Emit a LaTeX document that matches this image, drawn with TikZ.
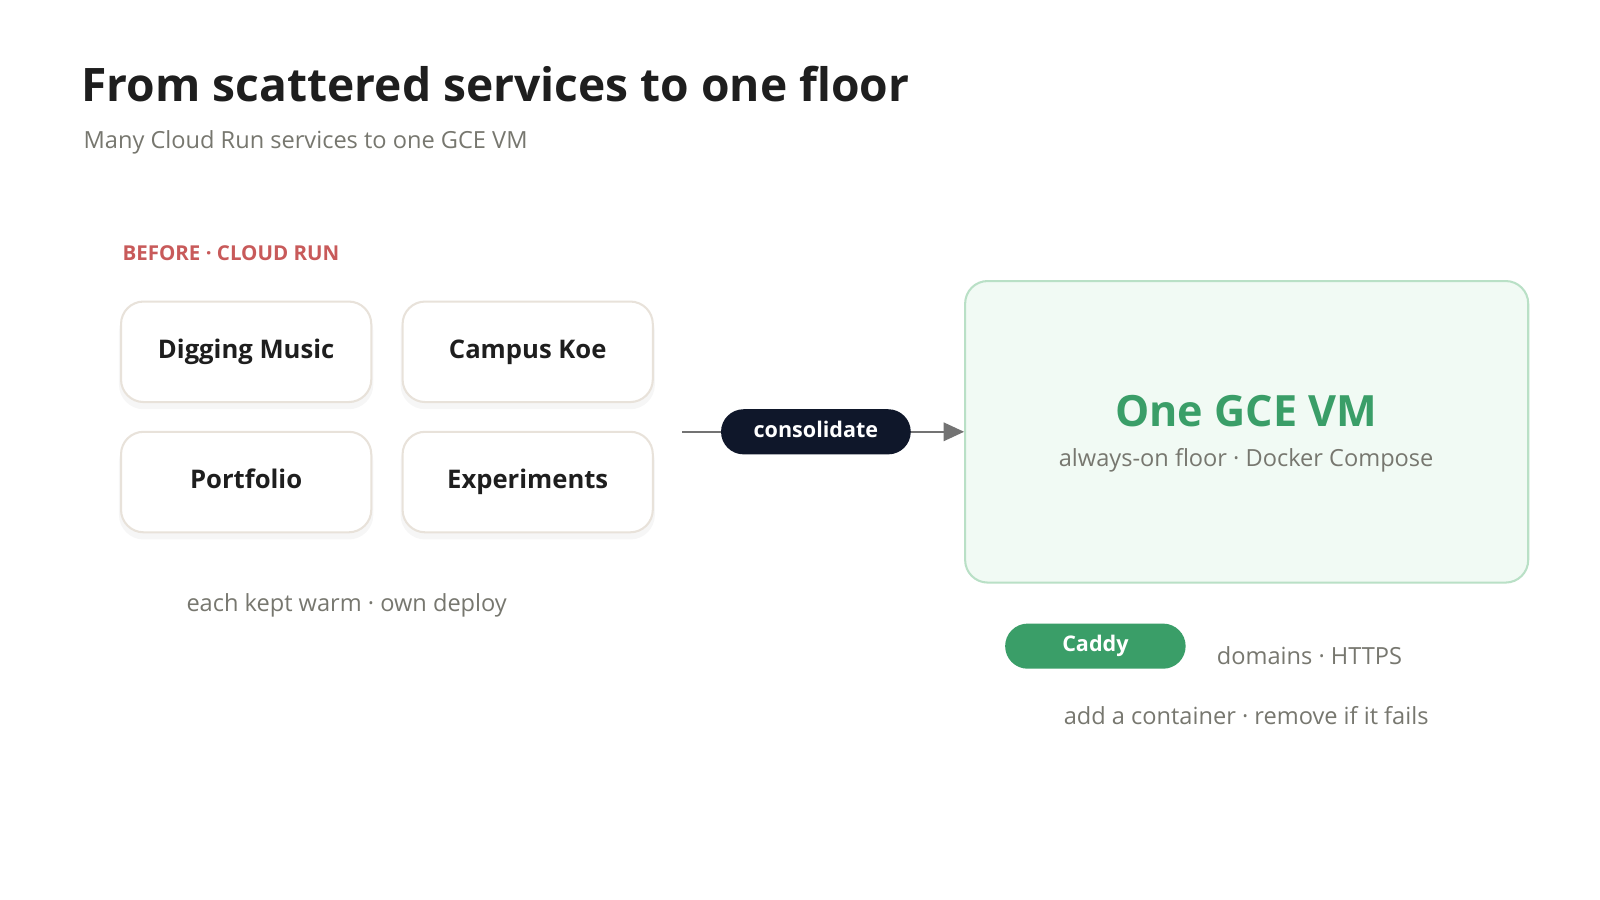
\documentclass[tikz,border=0pt]{standalone}
\usepackage{fontspec}
\setmainfont{Open Sans}
\usetikzlibrary{arrows.meta}
\definecolor{ink}{HTML}{1E1E1E}
\definecolor{gry}{HTML}{77776F}
\definecolor{redl}{HTML}{C85A5A}
\definecolor{bord}{HTML}{E8E2DA}
\definecolor{navy}{HTML}{0F172A}
\definecolor{grn}{HTML}{3A9E68}
\definecolor{grnbg}{HTML}{F1FAF4}
\definecolor{grnbd}{HTML}{B9E0C6}
\begin{document}
\begin{tikzpicture}[x=1pt,y=-1pt,
  svc/.style={draw=bord,line width=2pt,fill=white,rounded corners=22pt,minimum width=244pt,minimum height=98pt,text height=18pt,text depth=5pt,font=\fontsize{25}{30}\selectfont\bfseries,text=ink},
  note/.style={font=\fontsize{23}{28}\selectfont,text=gry},
  pill/.style={rounded corners=22pt,minimum height=44pt,text height=15pt,text depth=4pt,text=white,font=\fontsize{21}{25}\selectfont\bfseries}]
\useasboundingbox (0,0) rectangle (1560,877.5);
\fill[white] (0,0) rectangle (1560,877.5);
\node[anchor=west,font=\fontsize{45}{54}\selectfont\bfseries,text=ink] (title) at (76,82) {From scattered services to one floor};
\node[anchor=west,font=\fontsize{23}{28}\selectfont,text=gry] (sub) at (78,139) {Many Cloud Run services to one GCE VM};
\node[anchor=west,font=\fontsize{20}{24}\selectfont\bfseries,text=redl] (before) at (116,247) {BEFORE · CLOUD RUN};
\foreach \p in {(240,349),(514.5,349),(240,476),(514.5,476)}
  \fill[black,opacity=0.035,rounded corners=24pt] \p +(-124,-50) rectangle +(124,50);
\node[svc] (dm) at (240,343) {Digging Music};
\node[svc] (ck) at (514.5,343) {Campus Koe};
\node[svc] (pf) at (240,470) {Portfolio};
\node[svc] (ex) at (514.5,470) {Experiments};
\node[note] (warm) at (338,590) {each kept warm · own deploy};
\coordinate (a0) at (665,421);
\node[draw=grnbd,line width=2pt,fill=grnbg,rounded corners=22pt,minimum width=549pt,minimum height=294pt] (vm) at (1215.5,421) {};
\draw[gray!90!black,line width=2pt,-{Triangle[length=20pt,width=18pt]}] (a0) -- (vm.west);
\node[pill,fill=navy,minimum width=185pt] (cons) at (795.5,421) {consolidate};
\node[font=\fontsize{42}{50}\selectfont\bfseries,text=grn] (vmt) at (1215,401) {One GCE VM};
\node[note] (vms) at (1215,449) {always-on floor · Docker Compose};
\node[pill,fill=grn,minimum width=176pt] (caddy) at (1068,630) {Caddy};
\node[note,anchor=west] (dom) at (1183,639) {domains · HTTPS};
\node[note] (add) at (1215,698) {add a container · remove if it fails};
\end{tikzpicture}
\end{document}
